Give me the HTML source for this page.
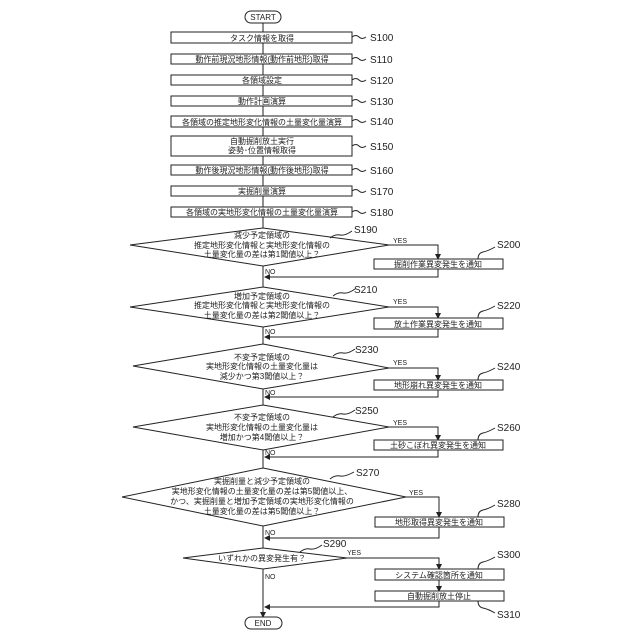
<!DOCTYPE html>
<html><head><meta charset="utf-8"><style>
html,body{margin:0;padding:0;background:#fff}
svg{display:block}
text{font-family:"Liberation Sans","Noto Sans CJK JP",sans-serif;fill:#222}
.t{font-size:8px;text-anchor:middle}
.l{font-size:10px}
.s{font-size:7px}
</style></head><body>
<svg width="640" height="640" viewBox="0 0 640 640" xmlns="http://www.w3.org/2000/svg">
<defs><marker id="a" markerWidth="6" markerHeight="6" refX="5" refY="3" orient="auto"><path d="M0,0 L6,3 L0,6 z" fill="#222"/></marker></defs>
<g stroke="#222" stroke-width="1" fill="none">
<rect x="245" y="11" width="36" height="12" rx="6" fill="#fff"/>
<line x1="263" y1="23" x2="263" y2="614" />
<rect x="171" y="32" width="181" height="11" fill="#fff"/>
<rect x="171" y="54" width="181" height="10" fill="#fff"/>
<rect x="171" y="75" width="181" height="10" fill="#fff"/>
<rect x="171" y="96" width="181" height="10" fill="#fff"/>
<rect x="171" y="116" width="181" height="11" fill="#fff"/>
<rect x="171" y="136" width="181" height="20" fill="#fff"/>
<rect x="171" y="165" width="181" height="10" fill="#fff"/>
<rect x="171" y="186" width="181" height="10" fill="#fff"/>
<rect x="171" y="207" width="181" height="10" fill="#fff"/>
<path d="M352,37 q4,-3 7,0 t7,0 M352,59 q4,-3 7,0 t7,0 M352,80 q4,-3 7,0 t7,0 M352,101 q4,-3 7,0 t7,0 M352,121 q4,-3 7,0 t7,0 M352,146 q4,-3 7,0 t7,0 M352,170 q4,-3 7,0 t7,0 M352,191 q4,-3 7,0 t7,0 M352,212 q4,-3 7,0 t7,0"/>
<!-- S190 -->
<polygon points="263,228 389,245 263,266 130,245" fill="#fff"/>
<polyline points="389,245 438,245 438,259" marker-end="url(#a)"/>
<rect x="374" y="259" width="129" height="10" fill="#fff"/>
<polyline points="438,269 438,277 265,277" marker-end="url(#a)"/>
<!-- S210 -->
<polygon points="263,287 389,307 263,327 130,307" fill="#fff"/>
<polyline points="389,307 438,307 438,318" marker-end="url(#a)"/>
<rect x="374" y="318" width="129" height="11" fill="#fff"/>
<polyline points="438,329 438,337 265,337" marker-end="url(#a)"/>
<!-- S230 -->
<polygon points="263,344 389,368 263,389 133,366" fill="#fff"/>
<polyline points="389,368 438,368 438,380" marker-end="url(#a)"/>
<rect x="374" y="380" width="129" height="10" fill="#fff"/>
<polyline points="438,390 438,397 265,397" marker-end="url(#a)"/>
<!-- S250 -->
<polygon points="263,405 389,427 263,450 133,427" fill="#fff"/>
<polyline points="389,427 438,427 438,440" marker-end="url(#a)"/>
<rect x="374" y="440" width="129" height="10" fill="#fff"/>
<polyline points="438,450 438,457 265,457" marker-end="url(#a)"/>
<!-- S270 -->
<polygon points="263,468 406,497 263,526 122,497" fill="#fff"/>
<polyline points="406,497 439,497 439,517" marker-end="url(#a)"/>
<rect x="375" y="517" width="129" height="10" fill="#fff"/>
<polyline points="439,527 439,538 265,538" marker-end="url(#a)"/>
<!-- S290 -->
<polygon points="263,548 347,558 263,569 183,558" fill="#fff"/>
<polyline points="347,558 439,558 439,569" marker-end="url(#a)"/>
<rect x="375" y="569" width="129" height="11" fill="#fff"/>
<line x1="439" y1="580" x2="439" y2="591" marker-end="url(#a)"/>
<rect x="375" y="591" width="129" height="10" fill="#fff"/>
<polyline points="439,601 439,607 265,607" marker-end="url(#a)"/>
<line x1="263" y1="607" x2="263" y2="617" marker-end="url(#a)"/>
<rect x="245" y="617" width="37" height="12" rx="6" fill="#fff"/>
<!-- label squiggles -->
<path d="M330,238 q5,-4 10,-3 t12,-4 M333,296 q5,-4 10,-3 t12,-4 M333,356 q5,-4 10,-3 t12,-4 M333,417 q5,-4 10,-3 t12,-4 M330,479 q5,-4 10,-3 t14,-4 M300,552 q5,-4 10,-3 t12,-4"/>
<path d="M478,259 q0,-6 5,-7 t12,-5 M478,318 q0,-6 5,-7 t12,-5 M478,380 q0,-6 5,-7 t12,-5 M478,440 q0,-6 5,-7 t12,-5 M478,517 q0,-6 5,-7 t12,-5 M478,569 q0,-6 5,-7 t12,-5 M478,601 q0,6 5,7 t12,5"/>
</g>
<text class="t" x="263" y="20">START</text>
<text class="t" x="263" y="626">END</text>
<text class="t" x="262" y="41">タスク情報を取得</text>
<text class="t" x="262" y="62">動作前現況地形情報(動作前地形)取得</text>
<text class="t" x="262" y="83">各領域設定</text>
<text class="t" x="262" y="104">動作計画演算</text>
<text class="t" x="262" y="125">各領域の推定地形変化情報の土量変化量演算</text>
<text class="t" x="262" y="144">自動掘削放土実行</text>
<text class="t" x="262" y="153">姿勢･位置情報取得</text>
<text class="t" x="262" y="173">動作後現況地形情報(動作後地形)取得</text>
<text class="t" x="262" y="194">実掘削量演算</text>
<text class="t" x="262" y="215">各領域の実地形変化情報の土量変化量演算</text>
<text class="l" x="370" y="41">S100</text><text class="l" x="370" y="63">S110</text><text class="l" x="370" y="84">S120</text><text class="l" x="370" y="105">S130</text><text class="l" x="370" y="125">S140</text><text class="l" x="370" y="150">S150</text><text class="l" x="370" y="174">S160</text><text class="l" x="370" y="195">S170</text><text class="l" x="370" y="216">S180</text>
<text class="t" x="262" y="238">減少予定領域の</text>
<text class="t" x="262" y="248">推定地形変化情報と実地形変化情報の</text>
<text class="t" x="262" y="257">土量変化量の差は第1閾値以上？</text>
<text class="t" x="262" y="299">増加予定領域の</text>
<text class="t" x="262" y="308">推定地形変化情報と実地形変化情報の</text>
<text class="t" x="262" y="318">土量変化量の差は第2閾値以上？</text>
<text class="t" x="262" y="360">不変予定領域の</text>
<text class="t" x="262" y="369">実地形変化情報の土量変化量は</text>
<text class="t" x="262" y="379">減少かつ第3閾値以上？</text>
<text class="t" x="262" y="420">不変予定領域の</text>
<text class="t" x="262" y="430">実地形変化情報の土量変化量は</text>
<text class="t" x="262" y="440">増加かつ第4閾値以上？</text>
<text class="t" x="262" y="484">実掘削量と減少予定領域の</text>
<text class="t" x="262" y="494">実地形変化情報の土量変化量の差は第5閾値以上、</text>
<text class="t" x="262" y="504">かつ、実掘削量と増加予定領域の実地形変化情報の</text>
<text class="t" x="262" y="514">土量変化量の差は第5閾値以上？</text>
<text class="t" x="262" y="561">いずれかの異変発生有？</text>
<text class="t" x="438" y="267">掘削作業異変発生を通知</text>
<text class="t" x="438" y="327">放土作業異変発生を通知</text>
<text class="t" x="438" y="388">地形崩れ異変発生を通知</text>
<text class="t" x="438" y="448">土砂こぼれ異変発生を通知</text>
<text class="t" x="439" y="525">地形取得異変発生を通知</text>
<text class="t" x="439" y="578">システム確認箇所を通知</text>
<text class="t" x="439" y="599">自動掘削放土停止</text>
<text class="s" x="393" y="243">YES</text><text class="s" x="393" y="304">YES</text><text class="s" x="393" y="365">YES</text><text class="s" x="393" y="425">YES</text><text class="s" x="409" y="495">YES</text><text class="s" x="347" y="555">YES</text>
<text class="s" x="265" y="274">NO</text><text class="s" x="265" y="334">NO</text><text class="s" x="265" y="395">NO</text><text class="s" x="265" y="455">NO</text><text class="s" x="265" y="535">NO</text><text class="s" x="265" y="579">NO</text>
<text class="l" x="354" y="233">S190</text><text class="l" x="354" y="293">S210</text><text class="l" x="355" y="353">S230</text><text class="l" x="355" y="414">S250</text><text class="l" x="356" y="476">S270</text><text class="l" x="323" y="547">S290</text>
<text class="l" x="497" y="248">S200</text><text class="l" x="497" y="309">S220</text><text class="l" x="497" y="370">S240</text><text class="l" x="497" y="431">S260</text><text class="l" x="497" y="507">S280</text><text class="l" x="497" y="558">S300</text><text class="l" x="497" y="618">S310</text>
</svg>
</body></html>
